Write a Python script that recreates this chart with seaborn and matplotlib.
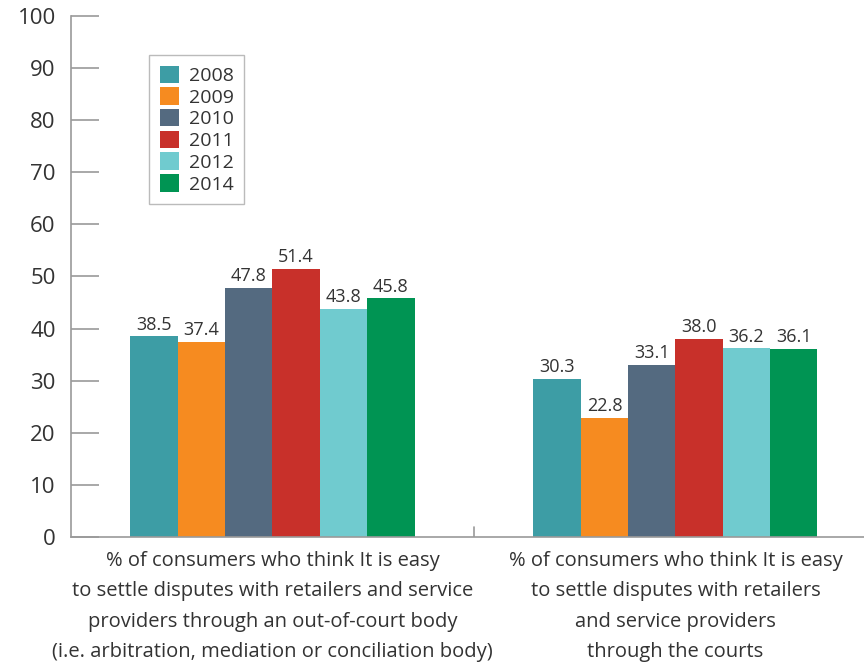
import matplotlib
matplotlib.use("Agg")
import matplotlib.pyplot as plt
import seaborn as sns
import pandas as pd

years = ["2008", "2009", "2010", "2011", "2012", "2014"]
categories = [
    "% of consumers who think It is easy\nto settle disputes with retailers and service\nproviders through an out-of-court body\n(i.e. arbitration, mediation or conciliation body)",
    "% of consumers who think It is easy\nto settle disputes with retailers\nand service providers\nthrough the courts",
]
out_of_court = [38.5, 37.4, 47.8, 51.4, 43.8, 45.8]
courts = [30.3, 22.8, 33.1, 38.0, 36.2, 36.1]
colors = ["#3D9DA5", "#F68B20", "#546A80", "#C8302A", "#70CBCF", "#009453"]
y_ticks = [0, 10, 20, 30, 40, 50, 60, 70, 80, 90, 100]

rows = []
for yr, a, b in zip(years, out_of_court, courts):
    rows.append({"category": categories[0], "year": yr, "value": a})
    rows.append({"category": categories[1], "year": yr, "value": b})
df = pd.DataFrame(rows)

sns.set_theme(style="white")
plt.rcParams["font.family"] = ["Open Sans", "DejaVu Sans"]
text_color = "#333333"
axis_color = "#9a9a9a"

fig = plt.figure(figsize=(8.64, 6.62), dpi=100)
ax = fig.add_axes([71 / 864, 125 / 662, (864 - 71) / 864, 521 / 662])

sns.barplot(data=df, x="category", y="value", hue="year", order=categories,
            hue_order=years, palette=colors, width=0.705, saturation=1,
            errorbar=None, ax=ax, linewidth=0)

for cont in ax.containers:
    ax.bar_label(cont, fmt="%.1f", padding=2, fontsize=13, color=text_color)

ax.set_ylim(0, 100)
ax.set_xlim(-0.5, 1.468)
ax.set_yticks(y_ticks)
ax.set_xlabel("")
ax.set_ylabel("")

for side in ["top", "right"]:
    ax.spines[side].set_visible(False)
for side in ["left", "bottom"]:
    ax.spines[side].set_color(axis_color)
    ax.spines[side].set_linewidth(1.2)

ax.tick_params(axis="y", direction="in", length=20, width=1.2, color=axis_color,
               labelsize=16, labelcolor=text_color, pad=11, left=True)
ax.tick_params(axis="x", bottom=False, labelsize=14.5, labelcolor=text_color, pad=4)
ax.set_xticks([0, 1])
ax.set_xticklabels(categories, linespacing=1.7)

# divider between the two groups
ax.axvline(0.5, ymin=0, ymax=0.02, color=axis_color, linewidth=1.2)

leg = ax.legend(loc="upper left", bbox_to_anchor=(78 / 793, (537 - 55) / 521),
                borderaxespad=0, frameon=True, fancybox=False, fontsize=14,
                handlelength=1.0, handleheight=1.0, handletextpad=0.5,
                labelspacing=0.12, borderpad=0.55, title=None,
                labelcolor=text_color)
leg.get_frame().set_edgecolor("#aaaaaa")
leg.get_frame().set_linewidth(1.0)

fig.savefig("out.png", dpi=100)
